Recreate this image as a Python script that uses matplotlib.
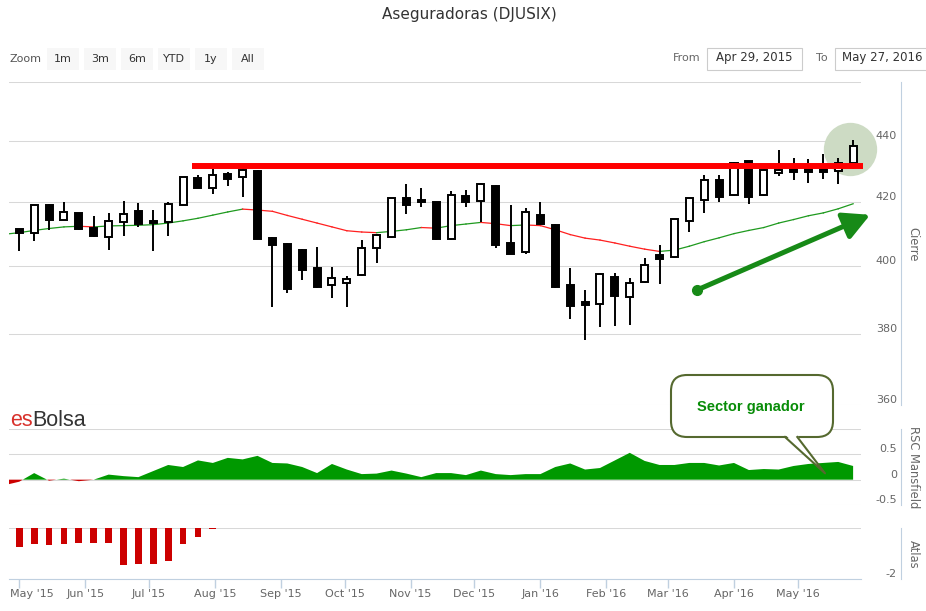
import numpy as np
import pandas as pd
import matplotlib
matplotlib.use("Agg")
import matplotlib.pyplot as plt
import matplotlib.dates as mdates
from matplotlib.ticker import NullLocator
from matplotlib.patches import FancyBboxPatch, Rectangle, Polygon, FancyArrowPatch
from matplotlib.transforms import IdentityTransform, blended_transform_factory

plt.rcParams["axes.unicode_minus"] = False

W, H = 926, 611

# weekly candles (Friday dates), DJUSIX
candle_dates = pd.date_range("2015-05-01", periods=57, freq="W-FRI")
line_dates = pd.date_range("2015-04-24", periods=58, freq="W-FRI")

open_ = [411.3, 410.2, 419.0, 414.3, 416.5, 411.6, 409.0, 413.7, 417.2, 414.1,
         413.6, 419.1, 427.7, 424.5, 429.0, 428.1, 430.1, 408.6, 406.8, 404.8,
         399.3, 394.2, 395.0, 397.2, 405.6, 409.0, 421.2, 420.7, 420.0, 408.3,
         421.9, 420.4, 425.1, 407.1, 404.2, 415.9, 412.7, 394.4, 389.2, 388.8,
         396.8, 390.8, 395.3, 403.3, 402.7, 413.9, 420.7, 427.0, 422.2, 433.1,
         422.2, 429.4, 430.6, 430.6, 430.5, 429.9, 432.6]
close_ = [410.2, 418.9, 414.2, 416.8, 411.4, 409.3, 413.9, 416.2, 413.1, 413.4,
          419.4, 427.9, 424.5, 428.6, 427.5, 430.2, 408.3, 406.6, 393.2, 398.8,
          393.7, 396.5, 396.2, 405.5, 409.7, 421.1, 418.9, 419.9, 408.4, 422.2,
          419.9, 425.8, 406.6, 403.8, 416.8, 413.1, 393.8, 388.0, 388.4, 397.7,
          391.0, 394.8, 400.3, 402.3, 414.6, 421.1, 427.0, 421.4, 432.6, 421.6,
          430.2, 430.4, 429.5, 429.5, 429.6, 432.6, 438.1]
high = [411.5, 419.0, 419.2, 420.1, 416.6, 415.6, 416.5, 420.4, 419.7, 417.5,
        419.9, 428.0, 428.7, 430.6, 429.5, 431.0, 430.4, 408.9, 407.0, 405.1,
        405.9, 399.8, 397.0, 408.0, 410.0, 421.2, 425.6, 424.5, 420.1, 423.6,
        423.9, 426.0, 425.3, 419.1, 418.1, 420.0, 413.0, 399.3, 392.7, 397.8,
        398.0, 396.5, 402.5, 406.5, 414.7, 421.3, 428.8, 428.8, 432.8, 433.3,
        430.5, 436.8, 434.3, 434.0, 435.4, 434.3, 440.3]
low = [404.5, 407.6, 411.0, 414.2, 411.2, 409.0, 404.9, 409.3, 412.0, 404.6,
       409.4, 419.0, 424.4, 422.6, 425.0, 421.6, 408.2, 387.8, 391.8, 395.8,
       393.5, 390.4, 387.7, 397.0, 401.0, 408.6, 416.2, 418.4, 407.9, 408.0,
       418.4, 413.7, 405.5, 403.7, 403.8, 413.0, 393.5, 384.3, 378.3, 382.0,
       382.2, 382.5, 394.8, 394.7, 402.5, 410.5, 416.5, 419.9, 422.0, 419.4,
       422.0, 428.3, 427.0, 426.1, 427.5, 425.6, 430.6]

# moving average (from 2015-04-24)
ma = [409.8, 410.3, 411.0, 411.6, 412.1, 412.3, 412.1, 412.4, 412.5, 412.6,
      412.8, 413.3, 414.0, 414.8, 415.8, 416.8, 417.7, 417.4, 417.0, 415.7,
      414.5, 413.3, 412.1, 410.9, 410.5, 410.3, 410.7, 411.2, 411.9, 411.7,
      412.5, 413.0, 413.5, 413.1, 412.5, 412.7, 412.5, 411.2, 409.7, 408.6,
      408.0, 407.1, 406.1, 405.2, 404.5, 404.9, 406.1, 407.5, 408.7, 410.0,
      411.0, 411.9, 413.3, 414.4, 415.6, 416.5, 417.8, 419.4]

# RSC Mansfield (from 2015-04-24)
rsc = [-0.11, -0.04, 0.13, -0.02, 0.02, -0.03, 0.0, 0.10, 0.07, 0.05,
       0.17, 0.29, 0.25, 0.38, 0.33, 0.43, 0.40, 0.47, 0.33, 0.32,
       0.25, 0.13, 0.31, 0.20, 0.11, 0.12, 0.18, 0.12, 0.05, 0.13,
       0.13, 0.09, 0.18, 0.11, 0.09, 0.11, 0.11, 0.25, 0.32, 0.20,
       0.23, 0.38, 0.53, 0.37, 0.29, 0.29, 0.33, 0.33, 0.28, 0.33,
       0.19, 0.21, 0.20, 0.27, 0.31, 0.33, 0.35, 0.27]

# Atlas (first weeks only)
atlas = [-0.73, -0.64, -0.68, -0.64, -0.60, -0.60, -0.60, -1.46, -1.42, -1.42,
         -1.30, -0.64, -0.37, -0.05]

price_ticks = [360, 380, 400, 420, 440, 460]
price_labels = ["360", "380", "400", "420", "440", ""]
rsc_ticks = [-0.5, 0, 0.5, 1.0]
rsc_labels = ["-0.5", "0", "0.5", ""]
atlas_ticks = [-2, 0]
atlas_labels = ["-2", ""]

month_ticks = pd.date_range("2015-05-01", "2016-05-01", freq="MS")
month_labels = [d.strftime("%b '%y") for d in month_ticks]

resistance = 431.6
zoom_buttons = ["1m", "3m", "6m", "YTD", "1y", "All"]

GRID = "#d8d8d8"
AXIS = "#c0d0e0"
LABEL = "#666666"
GREEN = "#178a17"

fig = plt.figure(figsize=(W / 100, H / 100), dpi=100)


def rect(top, bottom):
    return [9 / W, 1 - bottom / H, 852 / W, (bottom - top) / H]


ax = fig.add_axes(rect(82, 405))
ax_rsc = fig.add_axes(rect(429, 505), sharex=ax)
ax_atl = fig.add_axes(rect(528, 579), sharex=ax)

x = mdates.date2num(candle_dates)
xm = mdates.date2num(line_dates)
o = np.array(open_)
c = np.array(close_)

# highlight circle behind last candle
ax.scatter([pd.Timestamp("2016-05-25 12:00")], [437.3], s=1475, color="#cddbc4",
           zorder=1, clip_on=False, linewidths=0)

# moving average, green while rising, red while falling
ma_arr = np.array(ma)
for i in range(len(xm) - 1):
    col = "#1f9a1f" if ma_arr[i + 1] >= ma_arr[i] else "#ff2020"
    ax.plot(xm[i:i + 2], ma_arr[i:i + 2], color=col, lw=0.9, zorder=2)

# candles
ax.vlines(x, low, high, color="black", lw=1.4, zorder=3)
ax.bar(x, c - o, bottom=o, width=3.3,
       color=np.where(c >= o, "white", "black"), edgecolor="black", lw=1.4, zorder=4)

# resistance line
ax.plot([pd.Timestamp("2015-07-21 07:00"), pd.Timestamp("2016-05-31 17:00")],
        [resistance, resistance], color="#ff0000", lw=4.3, solid_capstyle="butt",
        zorder=5, clip_on=False)

# trend arrow
a0 = (mdates.date2num(pd.Timestamp("2016-03-14 12:00")), 392.8)
a1 = (mdates.date2num(pd.Timestamp("2016-06-04")), 415.9)
ax.plot([a0[0]], [a0[1]], "o", ms=7, color=GREEN, zorder=6, clip_on=False)
arrow = FancyArrowPatch(a0, a1, arrowstyle="-|>,head_length=0.8,head_width=0.42",
                        mutation_scale=20, lw=3.6, color=GREEN, zorder=6,
                        shrinkA=0, shrinkB=0, clip_on=False)
ax.add_patch(arrow)

ax.set_yscale("log")
ax.set_ylim(360, 460)
ax.yaxis.set_minor_locator(NullLocator())

# RSC Mansfield area
r = np.array(rsc)
ax_rsc.fill_between(xm, 0, r, where=r >= 0, interpolate=True, color="#009900", lw=0)
ax_rsc.fill_between(xm, 0, r, where=r < 0, interpolate=True, color="#cc0000", lw=0)
ax_rsc.set_ylim(-0.5, 1.0)

# Atlas bars
ax_atl.bar(x[:len(atlas)], atlas, width=3.15, color="#cc0000", lw=0)
ax_atl.set_ylim(-2, 0)

ax.set_xlim(pd.Timestamp("2015-04-26 04:00"), pd.Timestamp("2016-05-30 17:00"))

label_x = (897 - 9) / 852
for a, ticks, labels in ((ax, price_ticks, price_labels),
                         (ax_rsc, rsc_ticks, rsc_labels),
                         (ax_atl, atlas_ticks, atlas_labels)):
    for s in ("top", "left", "bottom"):
        a.spines[s].set_visible(False)
    a.spines["right"].set_position(("outward", 28.8))
    a.spines["right"].set_color(AXIS)
    a.set_yticks(ticks)
    a.tick_params(axis="y", length=0, labelleft=False, labelright=False)
    a.grid(axis="y", color=GRID, lw=0.75)
    a.set_axisbelow(True)
    a.patch.set_alpha(0)
    a.tick_params(axis="x", bottom=False, labelbottom=False)
    tr = blended_transform_factory(a.transAxes, a.transData)
    for t, lab in zip(ticks, labels):
        a.text(label_x, t, lab, transform=tr, ha="right", va="bottom", fontsize=8,
               color=LABEL, clip_on=False)

ax_atl.spines["bottom"].set_visible(True)
ax_atl.spines["bottom"].set_color(AXIS)
ax_atl.xaxis.set_major_locator(mdates.MonthLocator())
ax_atl.tick_params(axis="x", bottom=True, labelbottom=False, length=6.5, width=1,
                   color=AXIS)
trx = blended_transform_factory(ax_atl.transData, ax_atl.transAxes)
for i, (d, lab) in enumerate(zip(month_ticks, month_labels)):
    if i == 0:
        ax_atl.text(0.001, -0.2, lab, transform=ax_atl.transAxes, ha="left", va="top",
                    fontsize=8, color=LABEL)
    else:
        ax_atl.text(d, -0.2, lab, transform=trx, ha="center", va="top",
                    fontsize=8, color=LABEL)


# texts and decorations in pixel coordinates
def fx(px):
    return px / W


def fy(py):
    return 1 - py / H


fig.text(fx(469), fy(14), "Aseguradoras (DJUSIX)", ha="center", va="center",
         fontsize=11, color="#333333")

fig.text(fx(913), fy(244), "Cierre", rotation=270, ha="center", va="center",
         fontsize=8.3, color=LABEL)
fig.text(fx(913), fy(467), "RSC Mansfield", rotation=270, ha="center", va="center",
         fontsize=8.3, color=LABEL)
fig.text(fx(913), fy(554), "Atlas", rotation=270, ha="center", va="center",
         fontsize=8.3, color=LABEL)

# range selector
fig.text(fx(9), fy(59), "Zoom", ha="left", va="center", fontsize=8, color="#555555")
for i, lab in enumerate(zoom_buttons):
    x0 = 47 + 37 * i
    fig.add_artist(Rectangle((x0, H - 70), 32, 22, transform=IdentityTransform(),
                             facecolor="#f7f7f7", edgecolor="none"))
    fig.text(fx(x0 + 16), fy(59), lab, ha="center", va="center", fontsize=8,
             color="#333333")

fig.text(fx(700), fy(58), "From", ha="right", va="center", fontsize=8, color=LABEL)
fig.add_artist(Rectangle((707, H - 69.5), 95, 21.5, transform=IdentityTransform(),
                         facecolor="white", edgecolor="#cccccc", lw=0.8))
fig.text(fx(754.5), fy(58), "Apr 29, 2015", ha="center", va="center", fontsize=8.5,
         color="#333333")
fig.text(fx(828), fy(58), "To", ha="right", va="center", fontsize=8, color=LABEL)
fig.add_artist(Rectangle((835, H - 69.5), 100, 21.5, transform=IdentityTransform(),
                         facecolor="white", edgecolor="#cccccc", lw=0.8))
fig.text(fx(882), fy(58), "May 27, 2016", ha="center", va="center", fontsize=8.5,
         color="#333333")

# esBolsa logo
t_es = fig.text(fx(10), fy(426), "es", ha="left", va="baseline", fontsize=15.5,
                color="#d8312b", family="Liberation Sans")
fig.canvas.draw()
bb = t_es.get_window_extent()
fig.text(bb.x1 / W, fy(426), "Bolsa", ha="left", va="baseline", fontsize=15.5,
         color="#333333", family="Liberation Sans")

# speech bubble
EDGE = "#55692f"
fig.add_artist(FancyBboxPatch((671, H - 437), 162, 62, boxstyle="round,pad=0,rounding_size=16",
                              transform=IdentityTransform(), facecolor="white",
                              edgecolor=EDGE, lw=1.5, zorder=3))
fig.add_artist(Polygon([(785.5, H - 435), (797, H - 435), (825, H - 473.3)],
                       closed=True, transform=IdentityTransform(), facecolor="white",
                       edgecolor="none", zorder=4))
fig.add_artist(plt.Line2D([785, 825, 797.3], [H - 437, H - 473.3, H - 437],
                          transform=IdentityTransform(), color=EDGE, lw=1.5, zorder=4))
fig.text(fx(751), fy(407), "Sector ganador", ha="center", va="center", fontsize=10.5,
         fontweight="bold", color="#088c08", family="Liberation Sans", zorder=5)

fig.savefig("out.png", dpi=100)
